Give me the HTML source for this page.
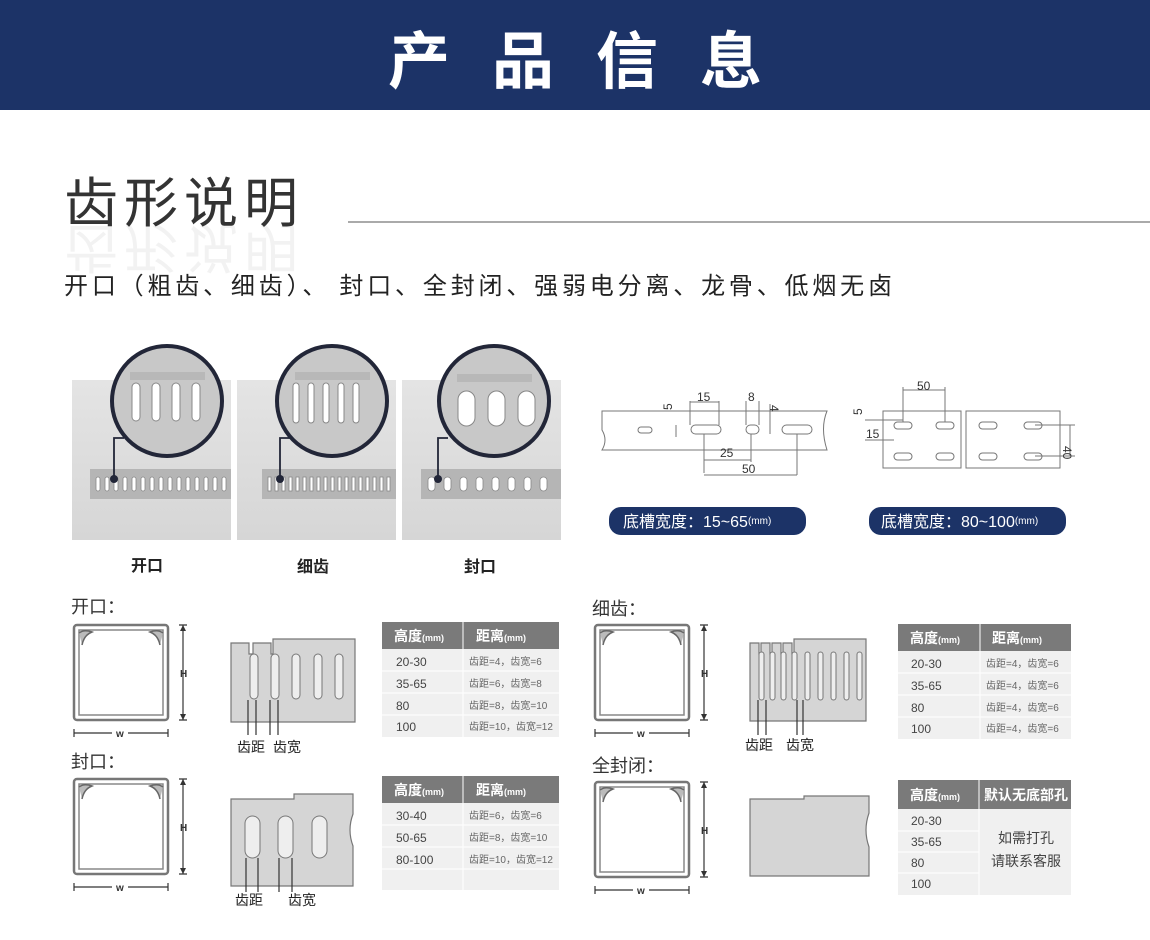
<!DOCTYPE html>
<html><head><meta charset="utf-8"><style>
body{margin:0;background:#fff;}
svg{display:block}
text{font-family:"Liberation Sans","Noto Sans CJK SC",sans-serif;}
</style></head><body>
<svg width="1150" height="940" viewBox="0 0 1150 940" xmlns="http://www.w3.org/2000/svg">
<defs>
<linearGradient id="ph" x1="0" y1="0" x2="0" y2="1"><stop offset="0" stop-color="#e4e4e4"/><stop offset="1" stop-color="#d6d6d6"/></linearGradient>
<symbol id="xs" viewBox="0 0 125 125" overflow="visible">
 <rect x="2" y="2" width="94" height="95" rx="3" fill="#fff" stroke="#777" stroke-width="2.5"/>
 <rect x="7" y="7" width="84" height="85" fill="#fff" stroke="#888" stroke-width="1.5"/>
 <path d="M7 10 Q12 6 20 9 Q12 12 10 22" fill="#bbb" stroke="#666" stroke-width="1.5"/>
 <path d="M91 10 Q86 6 78 9 Q86 12 88 22" fill="#bbb" stroke="#666" stroke-width="1.5"/>
 <line x1="111" y1="2" x2="111" y2="97" stroke="#333" stroke-width="1.2"/>
 <path d="M107 2h8M107 97h8" stroke="#333" stroke-width="1.2"/>
 <path d="M108 8l3-6 3 6zM108 91l3 6 3-6z" fill="#333"/>
 <text x="108" y="54" font-size="10" font-weight="bold" fill="#333">H</text>
 <line x1="2" y1="110" x2="96" y2="110" stroke="#333" stroke-width="1.2"/>
 <path d="M2 106v8M96 106v8" stroke="#333" stroke-width="1.2"/>
 <rect x="40" y="105" width="16" height="10" fill="#fff"/>
 <text x="44" y="114" font-size="10" font-weight="bold" fill="#333">w</text>
</symbol>
</defs>

<rect x="0" y="0" width="1150" height="110" fill="#1c3367"/>
<text x="388" y="83" font-size="62" font-weight="bold" fill="#fff" letter-spacing="42">产品信息</text>

<text x="64" y="222" font-size="54" fill="#333" letter-spacing="6">齿形说明</text>
<text x="64" y="228" font-size="54" fill="#333" opacity="0.06" transform="scale(1,-1) translate(0,-456)" letter-spacing="6">齿形说明</text>
<line x1="348" y1="222" x2="1150" y2="222" stroke="#555" stroke-width="1"/>
<text x="64" y="294" font-size="24" fill="#222" textLength="828" lengthAdjust="spacing" style="font-family:'Noto Sans CJK SC',sans-serif">开口（粗齿、细齿）、 封口、全封闭、强弱电分离、龙骨、低烟无卤</text>

<g>
<rect x="72" y="380" width="159" height="160" fill="url(#ph)"/>
<rect x="237" y="380" width="159" height="160" fill="url(#ph)"/>
<rect x="402" y="380" width="159" height="160" fill="url(#ph)"/>
<g fill="#b5b5b5"><rect x="90" y="469" width="141" height="30"/><rect x="262" y="469" width="134" height="30"/><rect x="421" y="469" width="140" height="30"/></g>
<g fill="#fff" stroke="#888" stroke-width="0.8">
<rect x="96" y="477" width="4" height="14" rx="2"/><rect x="105" y="477" width="4" height="14" rx="2"/><rect x="114" y="477" width="4" height="14" rx="2"/><rect x="123" y="477" width="4" height="14" rx="2"/><rect x="132" y="477" width="4" height="14" rx="2"/><rect x="141" y="477" width="4" height="14" rx="2"/><rect x="150" y="477" width="4" height="14" rx="2"/><rect x="159" y="477" width="4" height="14" rx="2"/><rect x="168" y="477" width="4" height="14" rx="2"/><rect x="177" y="477" width="4" height="14" rx="2"/><rect x="186" y="477" width="4" height="14" rx="2"/><rect x="195" y="477" width="4" height="14" rx="2"/><rect x="204" y="477" width="4" height="14" rx="2"/><rect x="213" y="477" width="4" height="14" rx="2"/><rect x="222" y="477" width="4" height="14" rx="2"/>
<rect x="268" y="477" width="3" height="14"/><rect x="275" y="477" width="3" height="14"/><rect x="282" y="477" width="3" height="14"/><rect x="289" y="477" width="3" height="14"/><rect x="296" y="477" width="3" height="14"/><rect x="303" y="477" width="3" height="14"/><rect x="310" y="477" width="3" height="14"/><rect x="317" y="477" width="3" height="14"/><rect x="324" y="477" width="3" height="14"/><rect x="331" y="477" width="3" height="14"/><rect x="338" y="477" width="3" height="14"/><rect x="345" y="477" width="3" height="14"/><rect x="352" y="477" width="3" height="14"/><rect x="359" y="477" width="3" height="14"/><rect x="366" y="477" width="3" height="14"/><rect x="373" y="477" width="3" height="14"/><rect x="380" y="477" width="3" height="14"/><rect x="387" y="477" width="3" height="14"/>
<rect x="428" y="477" width="7" height="14" rx="3.5"/><rect x="444" y="477" width="7" height="14" rx="3.5"/><rect x="460" y="477" width="7" height="14" rx="3.5"/><rect x="476" y="477" width="7" height="14" rx="3.5"/><rect x="492" y="477" width="7" height="14" rx="3.5"/><rect x="508" y="477" width="7" height="14" rx="3.5"/><rect x="524" y="477" width="7" height="14" rx="3.5"/><rect x="540" y="477" width="7" height="14" rx="3.5"/>
</g>
<g stroke="#222638" stroke-width="4">
<circle cx="167" cy="401" r="55" fill="#c8c8c8"/>
<circle cx="332" cy="401" r="55" fill="#c8c8c8"/>
<circle cx="494" cy="401" r="55" fill="#c8c8c8"/>
</g>
<g fill="#b8b8b8"><rect x="130" y="372" width="75" height="8"/><rect x="295" y="372" width="75" height="8"/><rect x="457" y="374" width="75" height="8"/></g>
<g fill="#fff" stroke="#888">
<rect x="132" y="383" width="8" height="38" rx="4"/><rect x="152" y="383" width="8" height="38" rx="4"/><rect x="172" y="383" width="8" height="38" rx="4"/><rect x="192" y="383" width="8" height="38" rx="4"/>
<rect x="293" y="383" width="6" height="40" rx="3"/><rect x="308" y="383" width="6" height="40" rx="3"/><rect x="323" y="383" width="6" height="40" rx="3"/><rect x="338" y="383" width="6" height="40" rx="3"/><rect x="353" y="383" width="6" height="40" rx="3"/>
<rect x="458" y="391" width="17" height="35" rx="8.5"/><rect x="488" y="391" width="17" height="35" rx="8.5"/><rect x="518" y="391" width="17" height="35" rx="8.5"/>
</g>
<g stroke="#222638" stroke-width="1.8" fill="none"><path d="M114 478V438h10"/><path d="M280 478V438h10"/><path d="M438 478V438h10"/></g>
<g fill="#222638"><circle cx="114" cy="479" r="4"/><circle cx="280" cy="479" r="4"/><circle cx="438" cy="479" r="4"/></g>
<g font-size="16" font-weight="bold" fill="#222" text-anchor="middle"><text x="147" y="571">开口</text><text x="313" y="572">细齿</text><text x="480" y="572">封口</text></g>
</g>

<g stroke="#777" stroke-width="1" fill="none">
<path d="M602 411H827Q820 428 827 450H602Q608 440 602 430Z" fill="#fff"/>
<rect x="638" y="427" width="14" height="6" rx="3"/><rect x="691" y="425" width="30" height="9" rx="4.5"/><rect x="746" y="425" width="13" height="9" rx="4.5"/><rect x="782" y="425" width="30" height="9" rx="4.5"/>
<path d="M690 401V425M719 401V425M690 402H719M746 401V425M759 401V425M770 404V434M676 425V437M704 434V473M751 434V462M797 434V475M704 460H751M704 475H797"/>
<rect x="883" y="411" width="78" height="57" fill="#fff"/><rect x="966" y="411" width="94" height="57" fill="#fff"/>
<rect x="894" y="422" width="18" height="7" rx="3.5"/><rect x="936" y="422" width="18" height="7" rx="3.5"/><rect x="979" y="422" width="18" height="7" rx="3.5"/><rect x="1024" y="422" width="18" height="7" rx="3.5"/>
<rect x="894" y="453" width="18" height="7" rx="3.5"/><rect x="936" y="453" width="18" height="7" rx="3.5"/><rect x="979" y="453" width="18" height="7" rx="3.5"/><rect x="1024" y="453" width="18" height="7" rx="3.5"/>
<path d="M903 387V422M945 387V422M903 390H945M865 420H903M865 440H894M1035 425H1075M1035 456H1075M1070 425V456"/>
</g>
<g font-size="12" fill="#333"><text x="697" y="401">15</text><text x="748" y="401">8</text><text x="720" y="457">25</text><text x="742" y="473">50</text><text x="917" y="390">50</text><text x="866" y="438">15</text><text x="1063" y="446" transform="rotate(90 1063 446)">40</text><text x="672" y="410" transform="rotate(-90 672 410)">5</text><text x="770" y="405" transform="rotate(90 770 405)">4</text><text x="862" y="415" transform="rotate(-90 862 415)">5</text></g>
<rect x="609" y="507" width="197" height="28" rx="12" fill="#1c3367"/>
<rect x="869" y="507" width="197" height="28" rx="12" fill="#1c3367"/>
<text x="623" y="527" font-size="16" fill="#fff">底槽宽度：15~65<tspan font-size="10" dy="-3">(mm)</tspan></text>
<text x="881" y="527" font-size="16" fill="#fff">底槽宽度：80~100<tspan font-size="10" dy="-3">(mm)</tspan></text>

<g font-size="18" fill="#333"><text x="71" y="613">开口：</text><text x="71" y="768">封口：</text><text x="592" y="615">细齿：</text><text x="592" y="772">全封闭：</text></g>

<use href="#xs" x="72" y="623" width="125" height="125"/>
<use href="#xs" x="72" y="777" width="125" height="125"/>
<use href="#xs" x="593" y="623" width="125" height="125"/>
<use href="#xs" x="593" y="780" width="125" height="125"/>

<g stroke="#777" stroke-width="1.2" fill="#d5d5d5">
<path d="M231 643H249V654H253V643H271V654H273V639H355V722H231Z"/>
<path d="M750 643H759V654H761V643H770V654H772V643H781V654H783V643H792V654H794V639H866V721H750Z"/>
<path d="M231 799H294V794H353V814Q347 830 353 846V886H231Z"/>
<path d="M750 799H804V796H869V813Q863 830 869 847V876H750Z"/>
</g>
<g fill="#eee" stroke="#777">
<rect x="250" y="654" width="8" height="45" rx="4"/><rect x="271" y="654" width="8" height="45" rx="4"/><rect x="292" y="654" width="8" height="45" rx="4"/><rect x="314" y="654" width="8" height="45" rx="4"/><rect x="335" y="654" width="8" height="45" rx="4"/>
<rect x="759" y="652" width="5" height="48" rx="2.5"/><rect x="770" y="652" width="5" height="48" rx="2.5"/><rect x="781" y="652" width="5" height="48" rx="2.5"/><rect x="792" y="652" width="5" height="48" rx="2.5"/><rect x="805" y="652" width="5" height="48" rx="2.5"/><rect x="818" y="652" width="5" height="48" rx="2.5"/><rect x="831" y="652" width="5" height="48" rx="2.5"/><rect x="844" y="652" width="5" height="48" rx="2.5"/><rect x="857" y="652" width="5" height="48" rx="2.5"/>
<rect x="245" y="816" width="15" height="42" rx="7.5"/><rect x="278" y="816" width="15" height="42" rx="7.5"/><rect x="312" y="816" width="15" height="42" rx="7.5"/>
</g>
<g stroke="#333" stroke-width="1.2"><path d="M248 700V735M256 700V735M270 700V735M278 700V735M758 700V735M766 700V735M797 700V735M803 700V735M246 858V892M258 858V892M279 858V892M292 858V892"/></g>
<g font-size="14" fill="#222"><text x="237" y="752">齿距</text><text x="273" y="752">齿宽</text><text x="745" y="750">齿距</text><text x="786" y="750">齿宽</text><text x="235" y="905">齿距</text><text x="288" y="905">齿宽</text></g>

<g font-size="12" fill="#444">
<rect x="382" y="622" width="177" height="115" fill="#f0f0f0"/>
<rect x="382" y="622" width="177" height="27" fill="#7a7a7a"/><line x1="463" y1="622" x2="463" y2="737" stroke="#fff"/>
<path d="M382 671H559M382 693H559M382 715H559" stroke="#fff"/>
<text x="394" y="641" font-size="14" fill="#fff" font-weight="bold">高度<tspan font-size="9">(mm)</tspan></text><text x="476" y="641" font-size="14" fill="#fff" font-weight="bold">距离<tspan font-size="9">(mm)</tspan></text>
<text x="396" y="666">20-30</text><text x="396" y="688">35-65</text><text x="396" y="710">80</text><text x="396" y="731">100</text>
<g font-size="10" fill="#666"><text x="469" y="665">齿距=4，齿宽=6</text><text x="469" y="687">齿距=6，齿宽=8</text><text x="469" y="709">齿距=8，齿宽=10</text><text x="469" y="730">齿距=10，齿宽=12</text></g>

<rect x="898" y="624" width="173" height="115" fill="#f0f0f0"/>
<rect x="898" y="624" width="173" height="27" fill="#7a7a7a"/><line x1="980" y1="624" x2="980" y2="739" stroke="#fff"/>
<path d="M898 673H1071M898 695H1071M898 717H1071" stroke="#fff"/>
<text x="910" y="643" font-size="14" fill="#fff" font-weight="bold">高度<tspan font-size="9">(mm)</tspan></text><text x="992" y="643" font-size="14" fill="#fff" font-weight="bold">距离<tspan font-size="9">(mm)</tspan></text>
<text x="911" y="668">20-30</text><text x="911" y="690">35-65</text><text x="911" y="712">80</text><text x="911" y="733">100</text>
<g font-size="10" fill="#666"><text x="986" y="667">齿距=4，齿宽=6</text><text x="986" y="689">齿距=4，齿宽=6</text><text x="986" y="711">齿距=4，齿宽=6</text><text x="986" y="732">齿距=4，齿宽=6</text></g>

<rect x="382" y="776" width="177" height="114" fill="#f0f0f0"/>
<rect x="382" y="776" width="177" height="27" fill="#7a7a7a"/><line x1="463" y1="776" x2="463" y2="890" stroke="#fff"/>
<path d="M382 825H559M382 847H559M382 869H559" stroke="#fff"/>
<text x="394" y="795" font-size="14" fill="#fff" font-weight="bold">高度<tspan font-size="9">(mm)</tspan></text><text x="476" y="795" font-size="14" fill="#fff" font-weight="bold">距离<tspan font-size="9">(mm)</tspan></text>
<text x="396" y="820">30-40</text><text x="396" y="842">50-65</text><text x="396" y="864">80-100</text>
<g font-size="10" fill="#666"><text x="469" y="819">齿距=6，齿宽=6</text><text x="469" y="841">齿距=8，齿宽=10</text><text x="469" y="863">齿距=10，齿宽=12</text></g>

<rect x="898" y="780" width="173" height="115" fill="#f0f0f0"/>
<rect x="898" y="780" width="173" height="29" fill="#7a7a7a"/><line x1="979" y1="780" x2="979" y2="895" stroke="#fff"/>
<path d="M898 831H979M898 852H979M898 873H979" stroke="#fff"/>
<text x="910" y="800" font-size="14" fill="#fff" font-weight="bold">高度<tspan font-size="9">(mm)</tspan></text><text x="984" y="800" font-size="14" fill="#fff" font-weight="bold">默认无底部孔</text>
<text x="911" y="825">20-30</text><text x="911" y="846">35-65</text><text x="911" y="867">80</text><text x="911" y="888">100</text>
<text x="1026" y="843" font-size="14" text-anchor="middle" fill="#444">如需打孔</text><text x="1026" y="866" font-size="14" text-anchor="middle" fill="#444">请联系客服</text>
</g>
</svg>
</body></html>
